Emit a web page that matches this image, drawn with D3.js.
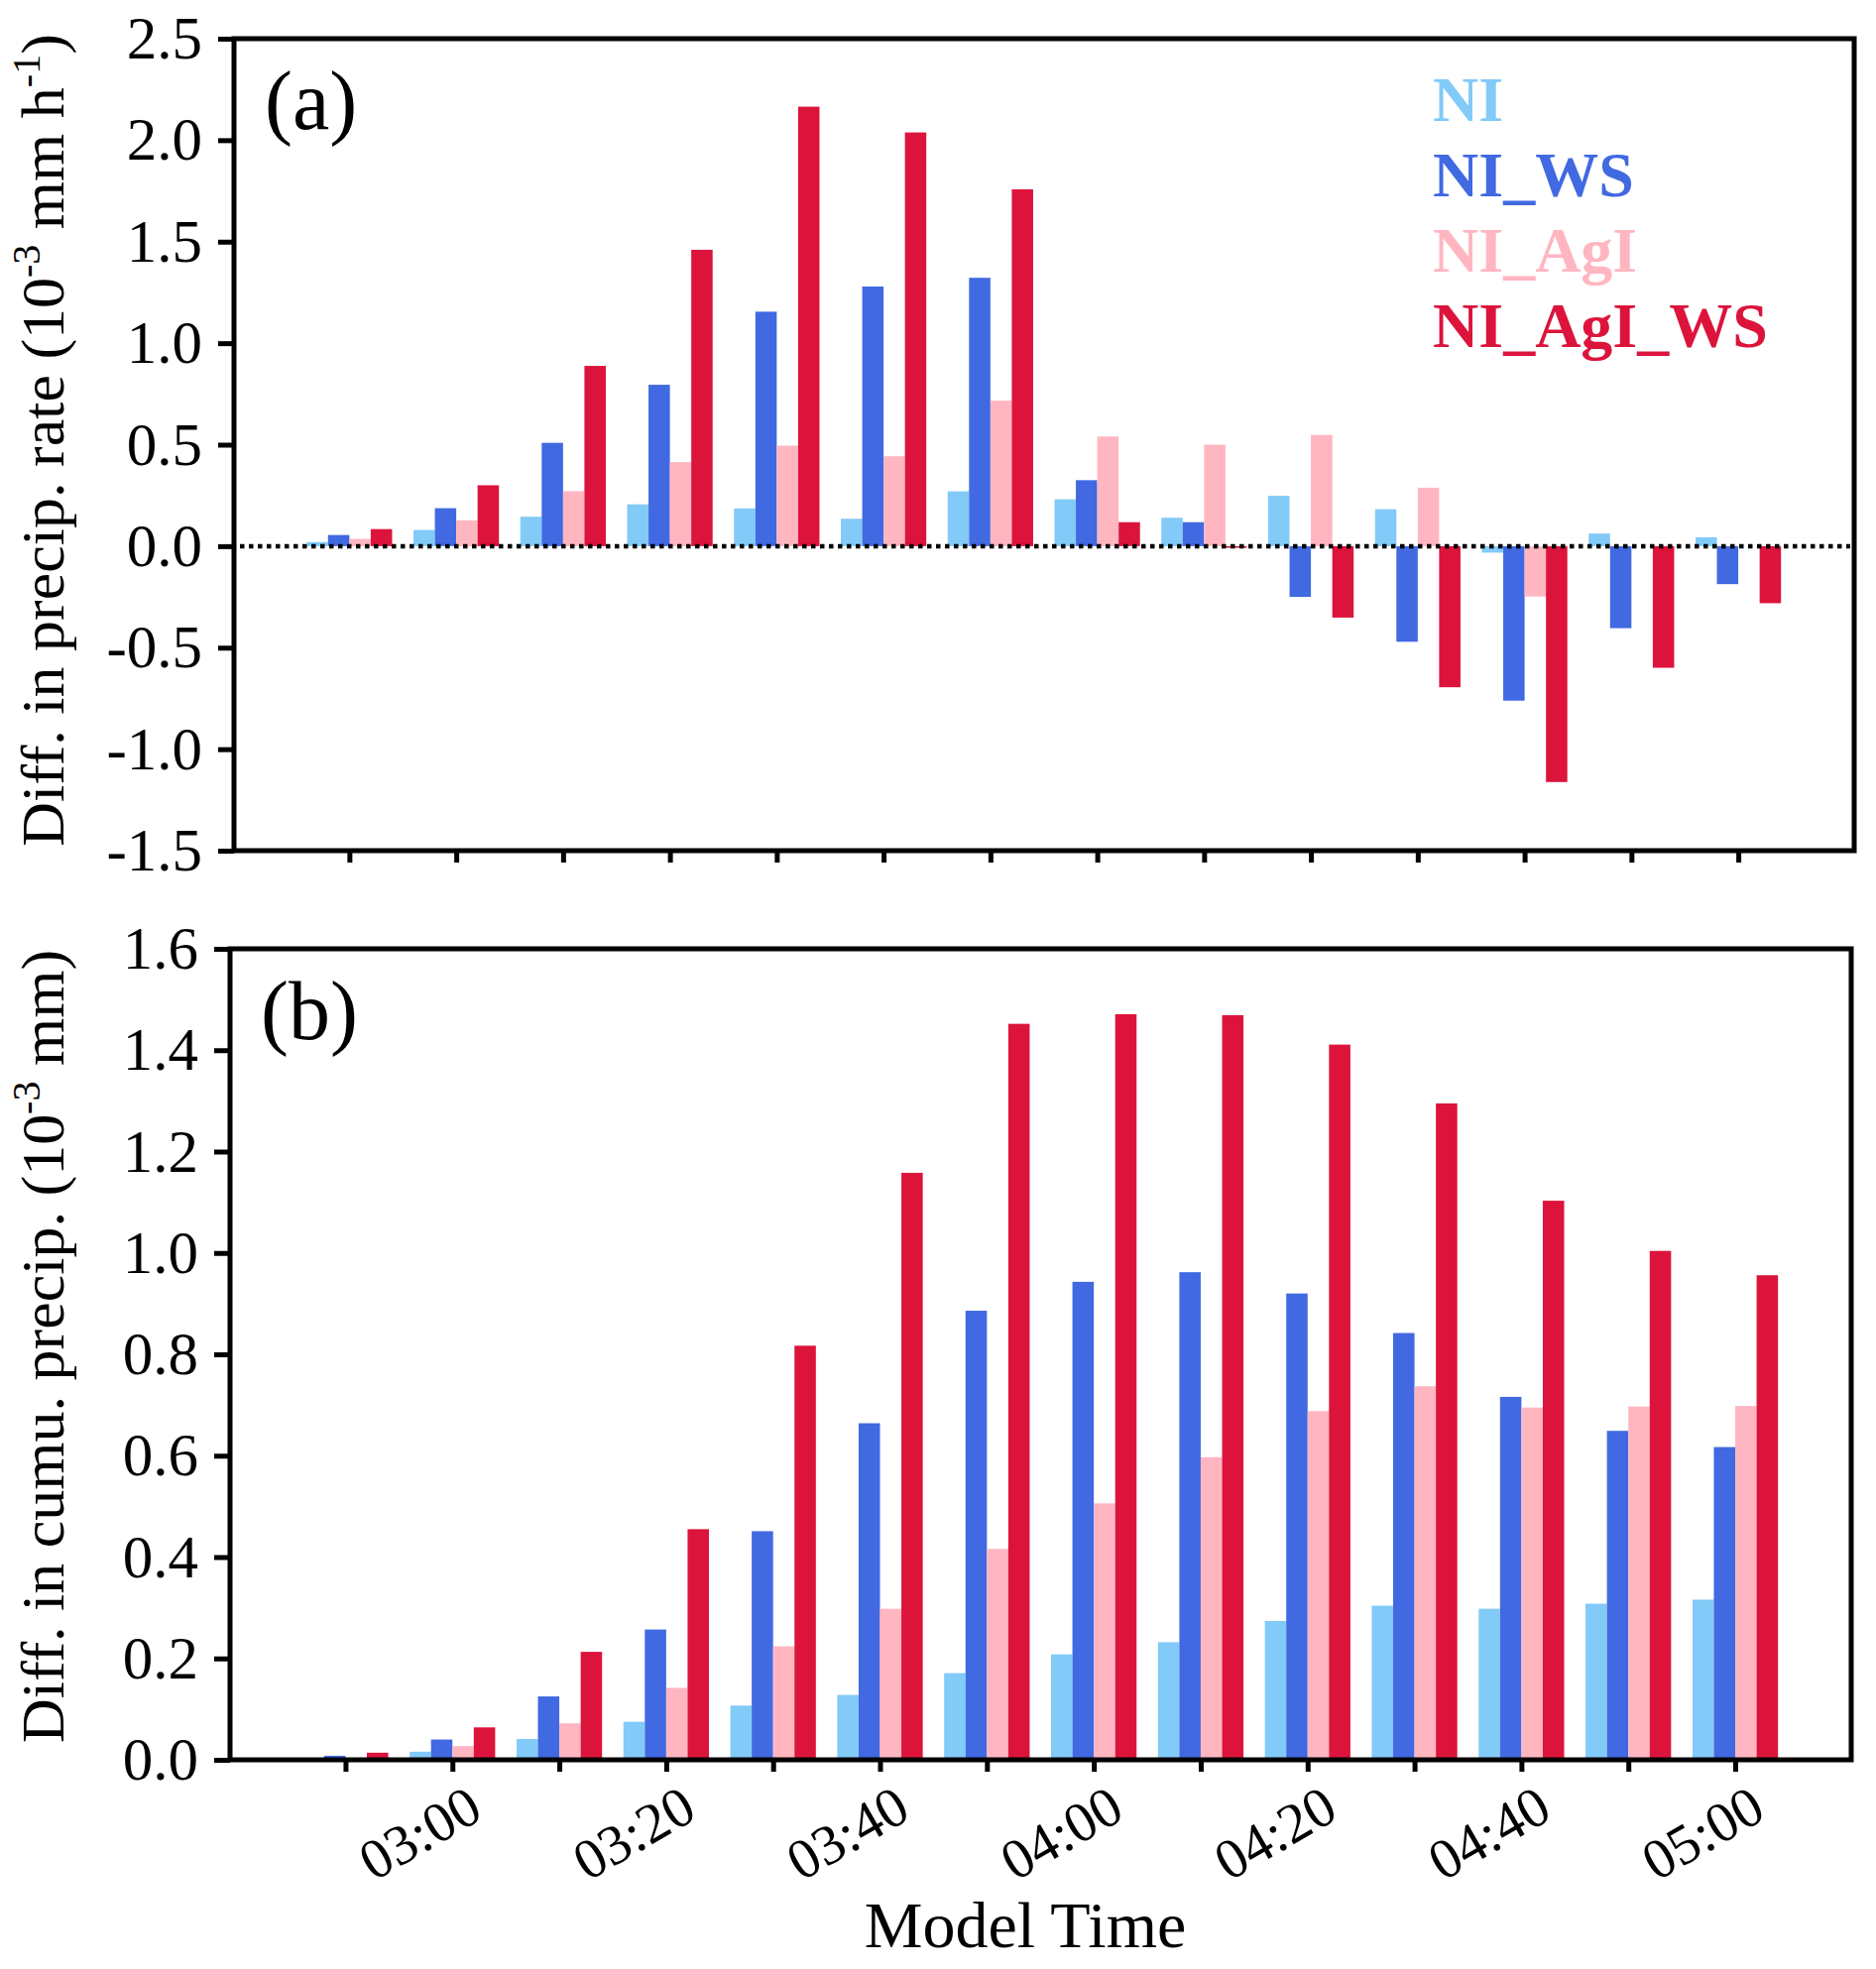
<!DOCTYPE html>
<html>
<head>
<meta charset="utf-8">
<style>
body { margin: 0; background: #fff; }
text { font-family: "Liberation Serif", serif; }
</style>
</head>
<body>
<svg id='chart'></svg>
<script src="https://d3js.org/d3.v7.min.js"></script>
<script>
// times of each bar group (ticks every 10 min)
var times = ['02:50','03:00','03:10','03:20','03:30','03:40','03:50','04:00','04:10','04:20','04:30','04:40','04:50','05:00']
var tickLabels = ['', '03:00', '', '03:20', '', '03:40', '', '04:00', '', '04:20', '', '04:40', '', '05:00']
var seriesNames = ['NI', 'NI_WS', 'NI_AgI', 'NI_AgI_WS']
var colors = ['#82CAF8', '#4169E1', '#FFB6C1', '#DC143C']

// (a) diff. in precip. rate (1e-3 mm/h)
var rateNI      = [0.02, 0.08, 0.145, 0.206, 0.186, 0.135, 0.27, 0.231, 0.14, 0.248, 0.182, -0.032, 0.062, 0.044]
var rateWS      = [0.055, 0.187, 0.509, 0.795, 1.155, 1.279, 1.322, 0.325, 0.118, -0.25, -0.471, -0.761, -0.404, -0.187]
var rateAgI     = [0.036, 0.127, 0.271, 0.414, 0.495, 0.443, 0.717, 0.54, 0.5, 0.548, 0.288, -0.248, 0, 0]
var rateAgIWS   = [0.084, 0.30, 0.888, 1.46, 2.165, 2.038, 1.758, 0.118, -0.008, -0.352, -0.695, -1.162, -0.599, -0.281]

// (b) diff. in cumulative precip. (1e-3 mm)
var cumNI       = [0, 0.016, 0.041, 0.075, 0.107, 0.128, 0.171, 0.208, 0.232, 0.274, 0.304, 0.298, 0.308, 0.316]
var cumWS       = [0.008, 0.04, 0.125, 0.257, 0.451, 0.664, 0.886, 0.943, 0.962, 0.92, 0.842, 0.716, 0.649, 0.617]
var cumAgI      = [0.004, 0.027, 0.072, 0.142, 0.224, 0.298, 0.416, 0.506, 0.597, 0.688, 0.737, 0.695, 0.697, 0.698]
var cumAgIWS    = [0.014, 0.064, 0.213, 0.455, 0.817, 1.158, 1.452, 1.471, 1.469, 1.411, 1.295, 1.103, 1.004, 0.956]

var ticksA = [2.5, 2.0, 1.5, 1.0, 0.5, 0.0, -0.5, -1.0, -1.5]
var ticksB = [0.0, 0.2, 0.4, 0.6, 0.8, 1.0, 1.2, 1.4, 1.6]

var W = 1892, H = 1986
var BAR = 0.2
var FONT = '"Liberation Serif", serif'

var svg = d3.select('#chart').attr('width', W).attr('height', H)

function drawPanel(box, series, yDomain, yTicks, label, showLabels) {
	var x = d3.scaleLinear().domain([-1.08, 14.085]).range([box.left, box.right])
	var y = d3.scaleLinear().domain(yDomain).range([box.bottom, box.top])
	var g = svg.append('g')

	series.forEach(function(vals, j) {
		g.selectAll(null)
			.data(vals)
			.enter()
			.append('rect')
			.attr('x', function(d, i){ return x(i + (j - 2) * BAR) })
			.attr('width', x(BAR) - x(0))
			.attr('y', function(d){ return y(Math.max(0, d)) })
			.attr('height', function(d){ return Math.abs(y(d) - y(0)) })
			.style('fill', colors[j])
	})

	var yAxis = d3.axisLeft(y).tickValues(yTicks).tickSize(16).tickPadding(16)
		.tickFormat(function(d){ return d3.format('.1f')(d).replace('\u2212', '-') })
	var ya = g.append('g').attr('transform', 'translate(' + box.left + ',0)').call(yAxis)
	ya.attr('font-family', FONT)
	ya.select('.domain').remove()
	ya.selectAll('line').style('stroke', 'black').style('stroke-width', 5)
	ya.selectAll('text').style('font-size', '61px').style('fill', 'black')

	var xAxis = d3.axisBottom(x).tickValues(d3.range(times.length)).tickSize(12).tickFormat('')
	var xa = g.append('g').attr('transform', 'translate(0,' + box.bottom + ')').call(xAxis)
	xa.select('.domain').remove()
	xa.selectAll('line').style('stroke', 'black').style('stroke-width', 5)

	if (showLabels) {
		g.selectAll(null)
			.data(tickLabels)
			.enter()
			.append('text')
			.attr('transform', function(d, i){ return 'translate(' + (x(i) + 33) + ',' + (box.bottom + 58) + ') rotate(-30)' })
			.attr('text-anchor', 'end')
			.attr('font-size', 57)
			.text(function(d){ return d })
	}

	g.append('rect')
		.attr('x', box.left).attr('y', box.top)
		.attr('width', box.right - box.left).attr('height', box.bottom - box.top)
		.style('fill', 'none').style('stroke', 'black').style('stroke-width', 5)

	g.append('text')
		.attr('x', box.left + 31).attr('y', box.top + 91)
		.attr('font-size', 84)
		.text(label)

	return {x: x, y: y, g: g}
}

var boxA = {left: 236, right: 1870, top: 39, bottom: 858}
var boxB = {left: 232, right: 1867, top: 957, bottom: 1775}

var pa = drawPanel(boxA, [rateNI, rateWS, rateAgI, rateAgIWS], [-1.5, 2.5], ticksA, '(a)', false)
var pb = drawPanel(boxB, [cumNI, cumWS, cumAgI, cumAgIWS], [0, 1.6], ticksB, '(b)', true)

// dotted zero line in (a)
pa.g.append('line')
	.attr('x1', boxA.left + 6).attr('x2', boxA.right - 4)
	.attr('y1', pa.y(0)).attr('y2', pa.y(0))
	.style('stroke', 'black').style('stroke-width', 4.5)
	.attr('stroke-dasharray', '4.5,4.5')

// legend
svg.selectAll(null)
	.data(seriesNames)
	.enter()
	.append('text')
	.attr('x', 1445)
	.attr('y', function(d, i){ return 122 + i * 76 })
	.attr('font-size', 64)
	.attr('font-weight', 'bold')
	.style('fill', function(d, i){ return colors[i] })
	.text(function(d){ return d })

// y labels
function yLabel(cy, parts) {
	var t = svg.append('text')
		.attr('transform', 'translate(64,' + cy + ') rotate(-90)')
		.attr('text-anchor', 'middle')
		.attr('font-size', 62)
	parts.forEach(function(p) {
		if (p.sup) {
			t.append('tspan').attr('dy', -24).attr('font-size', 40).text(p.sup)
			t.append('tspan').attr('dy', 24).text(p.after)
		} else {
			t.append('tspan').text(p.txt)
		}
	})
}
yLabel(444, [{txt: 'Diff. in precip. rate (10'}, {sup: '-3', after: ' mm h'}, {sup: '-1', after: ')'}])
yLabel(1358, [{txt: 'Diff. in cumu. precip. (10'}, {sup: '-3', after: ' mm)'}])

svg.append('text')
	.attr('x', 1034).attr('y', 1964)
	.attr('text-anchor', 'middle')
	.attr('font-size', 66)
	.text('Model Time')
</script>
</body>
</html>
